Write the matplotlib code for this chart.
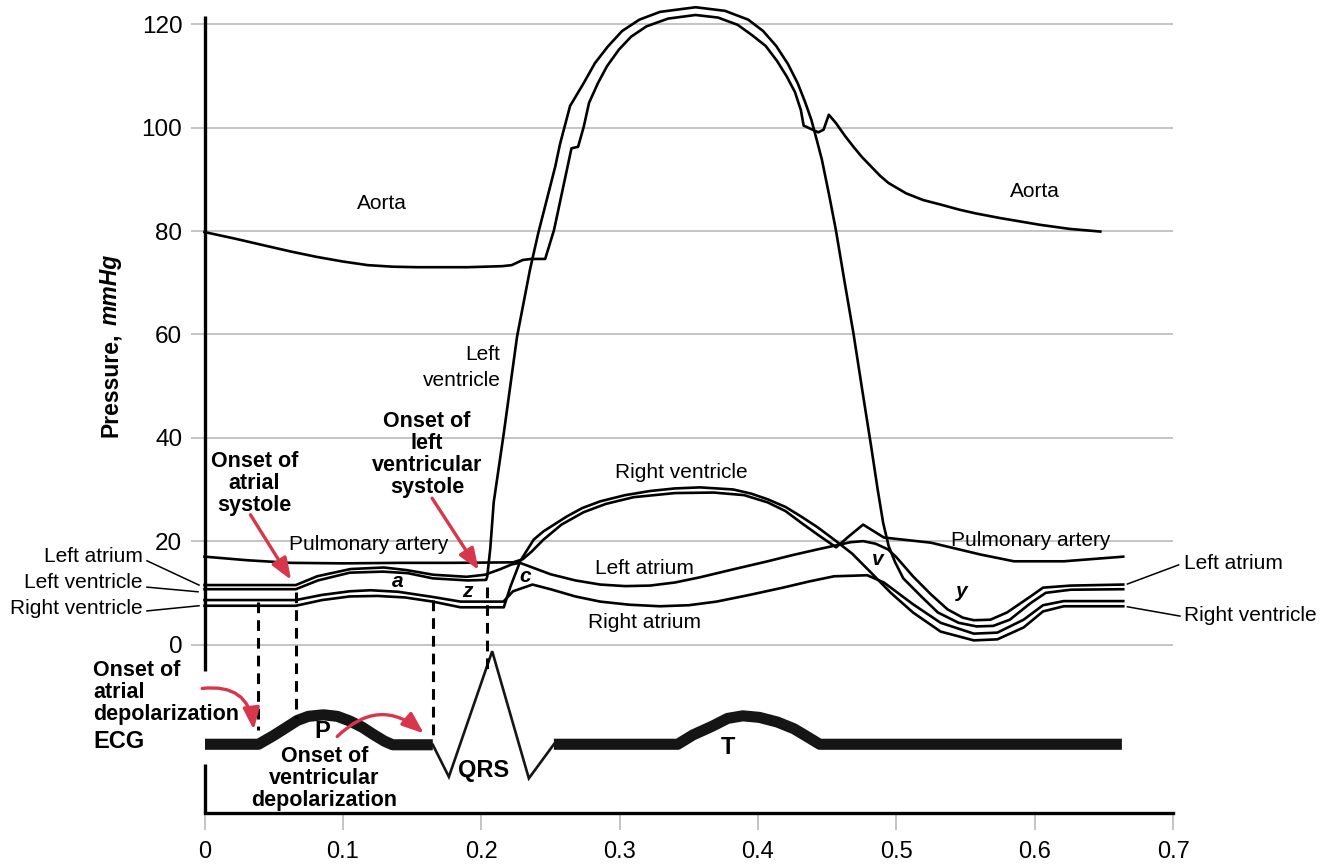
import matplotlib.pyplot as plt

plt.rcParams['font.family'] = ['Liberation Sans', 'DejaVu Sans']

# ---- pressure traces (time s, pressure mmHg) ----
aorta_t = [0, 0.0225, 0.045, 0.063, 0.081, 0.1, 0.118, 0.136, 0.154, 0.19, 0.215, 0.222, 0.226,
           0.23, 0.236, 0.2462, 0.2526, 0.2652, 0.270, 0.2741, 0.2779, 0.2843, 0.2909, 0.2995,
           0.3083, 0.3194, 0.335, 0.3549, 0.3711, 0.3853, 0.3957, 0.4056, 0.4138, 0.4208, 0.4267,
           0.431, 0.433, 0.4436, 0.4474, 0.4512, 0.4563, 0.4629, 0.469, 0.4752, 0.4817, 0.4882,
           0.4943, 0.507, 0.5193, 0.5323, 0.546, 0.5576, 0.5752, 0.6039, 0.6256, 0.6474]
aorta_p = [79.8, 78.5, 77.1, 76.0, 75.0, 74.1, 73.4, 73.1, 73.0, 73.0, 73.2, 73.4, 73.9,
           74.4, 74.6, 74.6, 80.2, 96.0, 96.3, 100.2, 104.8, 108.6, 111.9, 115.1,
           117.6, 119.6, 121.1, 121.8, 121.3, 119.9, 117.9, 115.8, 112.9, 109.9, 106.9,
           103.4, 100.4, 99.1, 99.6, 102.5, 100.9, 98.4, 96.3, 94.3, 92.5, 90.7,
           89.3, 87.3, 86.0, 85.1, 84.1, 83.4, 82.5, 81.2, 80.4, 79.9]

lv_t = [0, 0.066, 0.082, 0.105, 0.129, 0.147, 0.165, 0.19, 0.2035, 0.2043, 0.2065, 0.2079, 0.209,
        0.2163, 0.2259, 0.2352, 0.2412, 0.2535, 0.2569, 0.2642, 0.274, 0.2822, 0.2915, 0.3018,
        0.3143, 0.3292, 0.3549, 0.3762, 0.3929, 0.4037, 0.4132, 0.4217, 0.4287, 0.434, 0.4386,
        0.4427, 0.4462, 0.4514, 0.4563, 0.4627, 0.469, 0.4755, 0.4817, 0.4865, 0.4905, 0.4945,
        0.499, 0.505, 0.518, 0.53, 0.545, 0.558, 0.57, 0.582, 0.597, 0.608, 0.626, 0.664]
lv_p = [10.7, 10.7, 12.4, 13.9, 14.1, 13.8, 12.8, 12.4, 12.5, 13.1, 18.5, 23.5, 27.5,
        40.9, 59.6, 72.5, 79.6, 92.5, 96.8, 104.2, 108.6, 112.5, 115.7, 118.7,
        120.9, 122.4, 123.3, 122.6, 120.9, 118.7, 115.8, 112.3, 108.6, 105.0, 101.5,
        97.4, 93.8, 87.0, 80.2, 70.0, 60.2, 49.0, 38.5, 30.0, 23.5, 19.0,
        16.0, 12.8, 9.3, 6.2, 4.2, 3.5, 3.6, 4.8, 8.0, 10.0, 10.6, 10.7]

la_t = [0, 0.066, 0.0814, 0.1055, 0.1296, 0.146, 0.1653, 0.1895, 0.2027, 0.214, 0.222, 0.228,
        0.238, 0.25, 0.268, 0.286, 0.304, 0.322, 0.34, 0.358, 0.383, 0.407, 0.425, 0.443, 0.467,
        0.476, 0.485, 0.494, 0.5, 0.512, 0.525, 0.537, 0.548, 0.556, 0.568, 0.58, 0.597, 0.606,
        0.626, 0.664]
la_p = [11.5, 11.5, 13.2, 14.6, 14.9, 14.4, 13.5, 13.1, 13.5, 14.6, 15.5, 15.8,
        14.8, 13.6, 12.4, 11.6, 11.3, 11.4, 12.0, 13.0, 14.6, 16.1, 17.3, 18.4, 19.8,
        20.0, 19.5, 18.4, 16.9, 13.2, 9.7, 6.8, 5.2, 4.7, 4.8, 6.2, 9.3, 11.0,
        11.4, 11.6]

ra_t = [0, 0.066, 0.085, 0.105, 0.12, 0.14, 0.165, 0.185, 0.216, 0.223, 0.237, 0.25, 0.268,
        0.286, 0.307, 0.329, 0.35, 0.37, 0.394, 0.418, 0.437, 0.455, 0.479, 0.491, 0.5, 0.512,
        0.532, 0.556, 0.573, 0.592, 0.606, 0.621, 0.664]
ra_p = [8.6, 8.6, 9.6, 10.3, 10.5, 10.2, 9.2, 8.3, 8.3, 10.3, 11.6, 10.7, 9.3,
        8.3, 7.7, 7.4, 7.6, 8.3, 9.6, 11.0, 12.2, 13.2, 13.4, 12.0, 10.2, 7.8,
        4.2, 2.1, 2.3, 4.8, 7.6, 8.4, 8.4]

rv_t = [0, 0.066, 0.085, 0.105, 0.125, 0.145, 0.165, 0.185, 0.2163, 0.2211, 0.2283, 0.2379,
        0.245, 0.262, 0.273, 0.286, 0.304, 0.322, 0.34, 0.358, 0.382, 0.395, 0.407, 0.42, 0.431,
        0.443, 0.455, 0.468, 0.481, 0.496, 0.512, 0.532, 0.556, 0.573, 0.592, 0.606, 0.621, 0.664]
rv_p = [7.5, 7.5, 8.6, 9.3, 9.4, 9.1, 8.3, 7.2, 7.2, 11.2, 16.2, 20.3,
        21.9, 24.8, 26.4, 27.7, 28.9, 29.7, 30.2, 30.4, 30.0, 29.2, 28.1, 26.6, 24.8,
        22.7, 20.3, 17.6, 14.1, 10.0, 6.2, 2.5, 0.8, 1.0, 3.3, 6.4, 7.4, 7.4]

pa_t = [0, 0.031, 0.062, 0.1, 0.142, 0.18, 0.223, 0.23, 0.2365, 0.245, 0.258, 0.274, 0.29,
        0.31, 0.34, 0.368, 0.39, 0.407, 0.42, 0.431, 0.444, 0.4565, 0.466, 0.476, 0.491, 0.525,
        0.561, 0.585, 0.621, 0.664]
pa_p = [17.0, 16.3, 15.8, 15.7, 15.8, 15.8, 15.9, 16.5, 18.0, 20.3, 23.2, 25.6, 27.2,
        28.5, 29.3, 29.4, 28.9, 27.5, 25.8, 23.6, 21.1, 18.8, 21.0, 23.2, 20.7, 19.7,
        17.4, 16.1, 16.1, 17.0]

# ---- ECG (drawn in the pressure units below zero) ----
ecg1_t = [0, 0.039, 0.05, 0.06, 0.067, 0.075, 0.086, 0.096, 0.105, 0.114, 0.122, 0.13, 0.136, 0.165]
ecg1_v = [-19.3, -19.3, -17.6, -15.9, -14.7, -13.9, -13.6, -13.9, -14.8, -16.0, -17.4, -18.7, -19.4, -19.4]
qrs_t = [0.165, 0.1766, 0.2079, 0.2344, 0.2525]
qrs_v = [-19.4, -25.6, -1.3, -25.9, -19.3]
ecg2_t = [0.2525, 0.342, 0.353, 0.367, 0.378, 0.389, 0.401, 0.414, 0.426, 0.436, 0.4446, 0.663]
ecg2_v = [-19.3, -19.3, -17.5, -15.8, -14.3, -13.8, -14.1, -15.0, -16.3, -17.9, -19.3, -19.3]

dash_t = [0.039, 0.0658, 0.165, 0.2045]
dash_top = [8.3, 10.2, 8.6, 11.2]
dash_bot = [-16.5, -14.2, -18.3, -4.9]

yticks = [0, 20, 40, 60, 80, 100, 120]
xticks = [0, 0.1, 0.2, 0.3, 0.4, 0.5, 0.6, 0.7]
xlabels = ['0', '0.1', '0.2', '0.3', '0.4', '0.5', '0.6', '0.7']

red = '#d8364a'
lw = 1.9

fig = plt.figure(figsize=(13.35, 8.66), dpi=100)
ax = fig.add_axes([0.1532, 0.0612, 0.7255, 0.9388])
ax.set_xlim(0, 0.7)
ax.set_ylim(-32.6, 124.7)

for s in ['top', 'right', 'left']:
    ax.spines[s].set_visible(False)
ax.spines['bottom'].set_linewidth(2.4)
ax.spines['bottom'].set_bounds(0, 0.7)

ax.set_yticks(yticks)
ax.set_yticklabels([str(v) for v in yticks], fontsize=17.5)
ax.set_xticks(xticks)
ax.set_xticklabels(xlabels, fontsize=17)
ax.tick_params(axis='y', length=10, width=1.1, color='#b4b4b4', pad=6)
ax.tick_params(axis='x', length=12, width=1.1, color='#b4b4b4', pad=8)
ax.grid(axis='y', color='#b4b4b4', lw=1.1)
ax.set_axisbelow(True)

# broken y axis line
ax.plot([0, 0], [-5.2, 121.7], color='black', lw=2.4, clip_on=False, solid_capstyle='butt')
ax.plot([0, 0], [-23.2, -32.6], color='black', lw=2.4, clip_on=False, solid_capstyle='butt')

# pressure curves
for t, p in [(aorta_t, aorta_p), (lv_t, lv_p), (la_t, la_p), (ra_t, ra_p), (rv_t, rv_p), (pa_t, pa_p)]:
    ax.plot(t, p, color='black', lw=lw, clip_on=False, solid_joinstyle='round')

# ECG
ax.plot(ecg1_t, ecg1_v, color='#151515', lw=8, solid_capstyle='butt', solid_joinstyle='round')
ax.plot(qrs_t, qrs_v, color='#151515', lw=1.9, solid_joinstyle='miter')
ax.plot(ecg2_t, ecg2_v, color='#151515', lw=8, solid_capstyle='butt', solid_joinstyle='round')

for t, a, b in zip(dash_t, dash_top, dash_bot):
    ax.plot([t, t], [a, b], color='black', lw=2.2, ls=(0, (3.5, 2.3)), dash_capstyle='butt')

# red arrows
arrow = dict(arrowstyle='-|>,head_length=0.65,head_width=0.25', color=red, lw=2.4,
             mutation_scale=20, shrinkA=0, shrinkB=0)
ax.annotate('', xy=(0.0626, 12.5), xytext=(0.0332, 25.1), arrowprops=arrow)
ax.annotate('', xy=(0.1982, 14.4), xytext=(0.1645, 28.3), arrowprops=arrow)
ax.annotate('', xy=(0.0356, -16.5), xytext=(-0.0017, -8.5),
            arrowprops=dict(arrow, connectionstyle='arc3,rad=-0.5'), annotation_clip=False)
ax.annotate('', xy=(0.1585, -17.2), xytext=(0.0959, -17.8),
            arrowprops=dict(arrow, connectionstyle='arc3,rad=-0.45'))

# labels on the curves
reg = dict(fontsize=15, ha='center', va='center')
ax.text(0.128, 85.4, 'Aorta', **reg)
ax.text(0.600, 87.6, 'Aorta', **reg)
ax.text(0.119, 19.3, 'Pulmonary artery', **reg)
ax.text(0.597, 20.2, 'Pulmonary artery', **reg)
ax.text(0.3445, 33.2, 'Right ventricle', **reg)
ax.text(0.3177, 14.8, 'Left atrium', **reg)
ax.text(0.3177, 4.2, 'Right atrium', **reg)
ax.text(0.2139, 53.6, 'Left\nventricle', fontsize=15, ha='right', va='center',
        multialignment='right', linespacing=1.47)

ital = dict(fontsize=15, ha='center', va='center', fontweight='bold', style='italic')
ax.text(0.1398, 12.1, 'a', **ital)
ax.text(0.1897, 10.2, 'z', **ital)
ax.text(0.2316, 13.1, 'c', **ital)
ax.text(0.4868, 16.5, 'v', **ital)
ax.text(0.5474, 10.2, 'y', **ital)

bold = dict(fontsize=15.5, fontweight='bold', va='center', linespacing=1.06)
ax.text(0.0361, 31.1, 'Onset of\natrial\nsystole', ha='center', **bold)
ax.text(0.1608, 36.7, 'Onset of\nleft\nventricular\nsystole', ha='center', **bold)
ax.text(-0.0803, -9.3, 'Onset of\natrial\ndepolarization', ha='left', **bold)
ax.text(0.0867, -26.0, 'Onset of\nventricular\ndepolarization', ha='center', **bold)
ax.text(-0.0803, -18.8, 'ECG', fontsize=17, fontweight='bold', ha='left', va='center')
ax.text(0.085, -16.9, 'P', fontsize=17, fontweight='bold', ha='center', va='center')
ax.text(0.2015, -24.4, 'QRS', fontsize=17, fontweight='bold', ha='center', va='center')
ax.text(0.378, -20.0, 'T', fontsize=17, fontweight='bold', ha='center', va='center')

# side labels with leader lines
ax.text(-0.0448, 17.0, 'Left atrium', fontsize=15, ha='right', va='center')
ax.text(-0.0448, 12.0, 'Left ventricle', fontsize=15, ha='right', va='center')
ax.text(-0.0448, 7.0, 'Right ventricle', fontsize=15, ha='right', va='center')
ax.plot([-0.0416, -0.004], [16.2, 11.5], color='black', lw=1.1, clip_on=False)
ax.plot([-0.0416, -0.0047], [11.1, 10.2], color='black', lw=1.1, clip_on=False)
ax.plot([-0.0416, -0.004], [6.5, 7.5], color='black', lw=1.1, clip_on=False)

ax.text(0.7076, 15.7, 'Left atrium', fontsize=15, ha='left', va='center')
ax.text(0.7076, 5.7, 'Right ventricle', fontsize=15, ha='left', va='center')
ax.plot([0.667, 0.704], [11.7, 15.4], color='black', lw=1.1, clip_on=False)
ax.plot([0.667, 0.705], [7.3, 5.5], color='black', lw=1.1, clip_on=False)

# y axis title: bold with italic unit
fig.text(0.0824, 0.4954, 'Pressure,', rotation=90, ha='center', va='bottom',
         fontsize=16.5, fontweight='bold')
fig.text(0.0824, 0.625, 'mmHg', rotation=90, ha='center', va='bottom',
         fontsize=16.5, fontweight='bold', style='italic')

fig.savefig('out.png', dpi=100)
